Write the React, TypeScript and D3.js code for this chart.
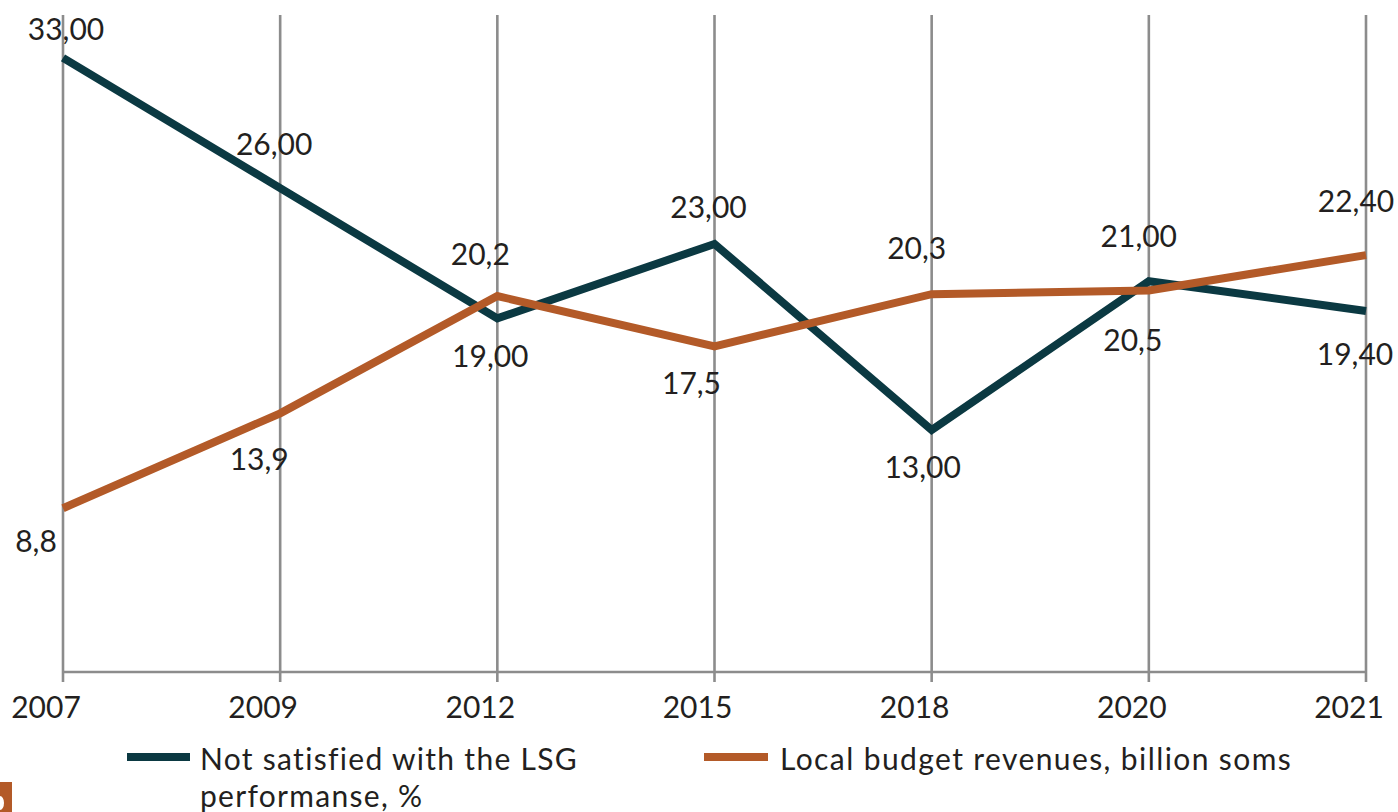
import React from "react";
import * as d3 from "d3";

const years = ["2007", "2009", "2012", "2015", "2018", "2020", "2021"];
const notSatisfied = [33, 26, 19, 23, 13, 21, 19.4];
const notSatisfiedLabels = ["33,00", "26,00", "19,00", "23,00", "13,00", "21,00", "19,40"];
const budget = [8.8, 13.9, 20.2, 17.5, 20.3, 20.5, 22.4];
const budgetLabels = ["8,8", "13,9", "20,2", "17,5", "20,3", "20,5", "22,40"];
const legendNames = [["Not satisfied with the LSG", "performanse, %"], ["Local budget revenues, billion soms"]];

// label placement offsets (dx from point, dy baseline from point)
const notSatisfiedOffsets: [number, number][] = [[3, -18], [-6, -33], [-7, 49], [-6, -26], [-9, 48], [-10, -34], [-11, 54]];
const budgetOffsets: [number, number][] = [[-27, 44], [-21, 57], [-17, -31], [-23, 48], [-15, -35], [-16, 61], [-10, -43]];

const W = 1398;
const H = 812;
const TEAL = "#0b3942";
const ORANGE = "#b35a28";
const GRID = "#8c8c8c";
const TEXT = "#231f20";
const FONT = "Lato, 'Open Sans', sans-serif";

export default function App() {
  const x = d3.scalePoint<string>().domain(years).range([63, 1366]);
  const y = d3.scaleLinear().domain([0, 36]).range([672, 2]);
  const line = d3
    .line<number>()
    .x((_, i) => x(years[i]) as number)
    .y((d) => y(d));

  const series = [
    { values: notSatisfied, labels: notSatisfiedLabels, offsets: notSatisfiedOffsets, color: TEAL },
    { values: budget, labels: budgetLabels, offsets: budgetOffsets, color: ORANGE },
  ];

  return (
    <svg
      width={W}
      height={H}
      style={{ position: "absolute", left: 0, top: 0, background: "#fff" }}
      fontFamily={FONT}
    >
      {/* grid lines */}
      {years.map((yr) => (
        <line key={yr} x1={x(yr)} x2={x(yr)} y1={15} y2={682} stroke={GRID} strokeWidth={2.6} />
      ))}
      <line x1={x(years[0])} x2={x(years[years.length - 1])} y1={y(0)} y2={y(0)} stroke={GRID} strokeWidth={2.6} />

      {/* year labels */}
      {years.map((yr) => (
        <text key={yr} x={(x(yr) as number) - 17} y={718} textAnchor="middle" fontSize={30} fill={TEXT}>
          {yr}
        </text>
      ))}

      {/* series lines */}
      {series.map((s, si) => (
        <path
          key={si}
          d={line(s.values) || ""}
          fill="none"
          stroke={s.color}
          strokeWidth={8}
          strokeLinejoin="miter"
          strokeLinecap="butt"
        />
      ))}

      {/* data labels */}
      {series.map((s, si) =>
        s.values.map((v, i) => (
          <text
            key={`${si}-${i}`}
            x={(x(years[i]) as number) + s.offsets[i][0]}
            y={y(v) + s.offsets[i][1]}
            textAnchor="middle"
            fontSize={30}
            fill={TEXT}
          >
            {s.labels[i]}
          </text>
        ))
      )}

      {/* legend */}
      <line x1={127} x2={190} y1={757} y2={757} stroke={TEAL} strokeWidth={8} />
      <text x={200} y={770} fontSize={30} fill={TEXT} letterSpacing={1.3}>
        {legendNames[0].map((t, i) => (
          <tspan key={i} x={200} dy={i === 0 ? 0 : 37}>
            {t}
          </tspan>
        ))}
      </text>
      <line x1={704} x2={768} y1={757} y2={757} stroke={ORANGE} strokeWidth={8} />
      <text x={780} y={770} fontSize={30} fill={TEXT} letterSpacing={1.4}>
        {legendNames[1][0]}
      </text>

      {/* cropped decoration bottom-left */}
      <rect x={0} y={782} width={12} height={30} fill={ORANGE} />
      <ellipse cx={0} cy={803} rx={4} ry={7} fill="#fff" />
    </svg>
  );
}
